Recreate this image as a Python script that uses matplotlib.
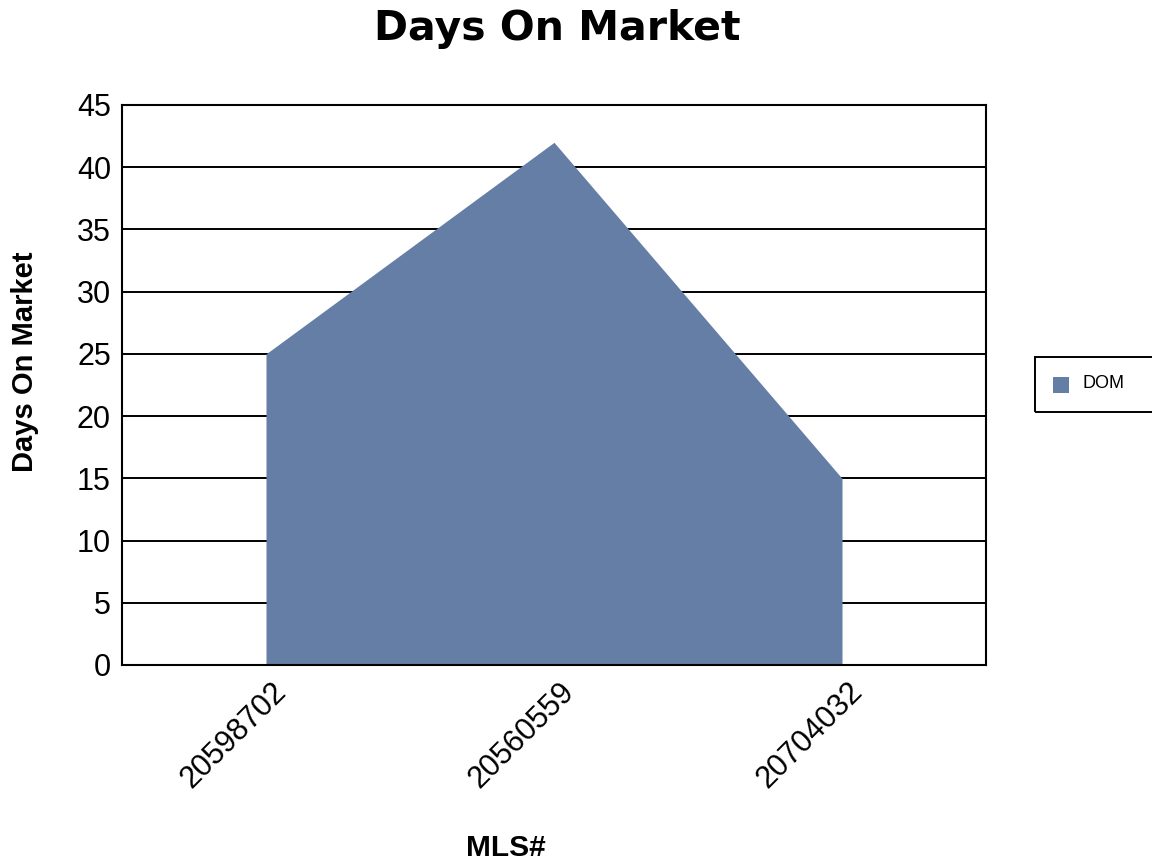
import matplotlib.pyplot as plt
import matplotlib.patches as patches
import matplotlib.transforms as mtransforms

mls = ['20598702', '20560559', '20704032']
dom = [25, 42, 15]
fill_color = '#647ea6'

W, H = 1152, 865
fig = plt.figure(figsize=(W / 100, H / 100), dpi=100)
ax = fig.add_axes([122 / W, 1 - 665 / H, 864 / W, 560 / H])

x = list(range(len(mls)))
ax.fill_between(x, dom, 0, color=fill_color, linewidth=0, zorder=2)

ax.set_xlim(-0.5, len(mls) - 0.5)
ax.set_ylim(0, 45)
ax.set_yticks(range(0, 46, 5))
ax.yaxis.grid(True, color='black', linewidth=1.4, zorder=1)
ax.set_axisbelow(True)
for s in ax.spines.values():
    s.set_linewidth(1.5)

ax.set_xticks(x)
ax.set_xticklabels(mls, rotation=45, ha='right', va='center',
                   rotation_mode='anchor', fontsize=22, family='Liberation Sans')
ax.tick_params(axis='x', length=0, pad=16)
shift = mtransforms.ScaledTranslation(16 / 100, 0, fig.dpi_scale_trans)
for t in ax.get_xticklabels():
    t.set_transform(t.get_transform() + shift)
ax.tick_params(axis='y', length=0, pad=8, labelsize=22)
for t in ax.get_yticklabels():
    t.set_family('Liberation Sans')

fig.text(25 / W, 1 - 362 / H, 'Days On Market', rotation=90, fontsize=21,
         fontweight='bold', family='Liberation Sans', ha='center', va='center')
fig.text(506 / W, 1 - 848 / H, 'MLS#', fontsize=21.5, fontweight='bold',
         family='Liberation Sans', ha='center', va='center')
fig.text(557 / W, 1 - 29 / H, 'Days On Market', fontsize=29.5,
         fontweight='bold', family='DejaVu Sans', ha='center', va='center')

# legend box, runs off the right edge
fig.patches.append(patches.Rectangle((1035 / W, 1 - 412 / H), 200 / W, 55 / H,
                                     transform=fig.transFigure, fill=False,
                                     edgecolor='black', linewidth=1.4))
fig.patches.append(patches.Rectangle((1053 / W, 1 - 393 / H), 16 / W, 16 / H,
                                     transform=fig.transFigure,
                                     facecolor=fill_color, linewidth=0))
fig.text(1082 / W, 1 - 384 / H, 'DOM', fontsize=13, family='Liberation Sans',
         ha='left', va='center')

fig.savefig('out.png', dpi=100)
